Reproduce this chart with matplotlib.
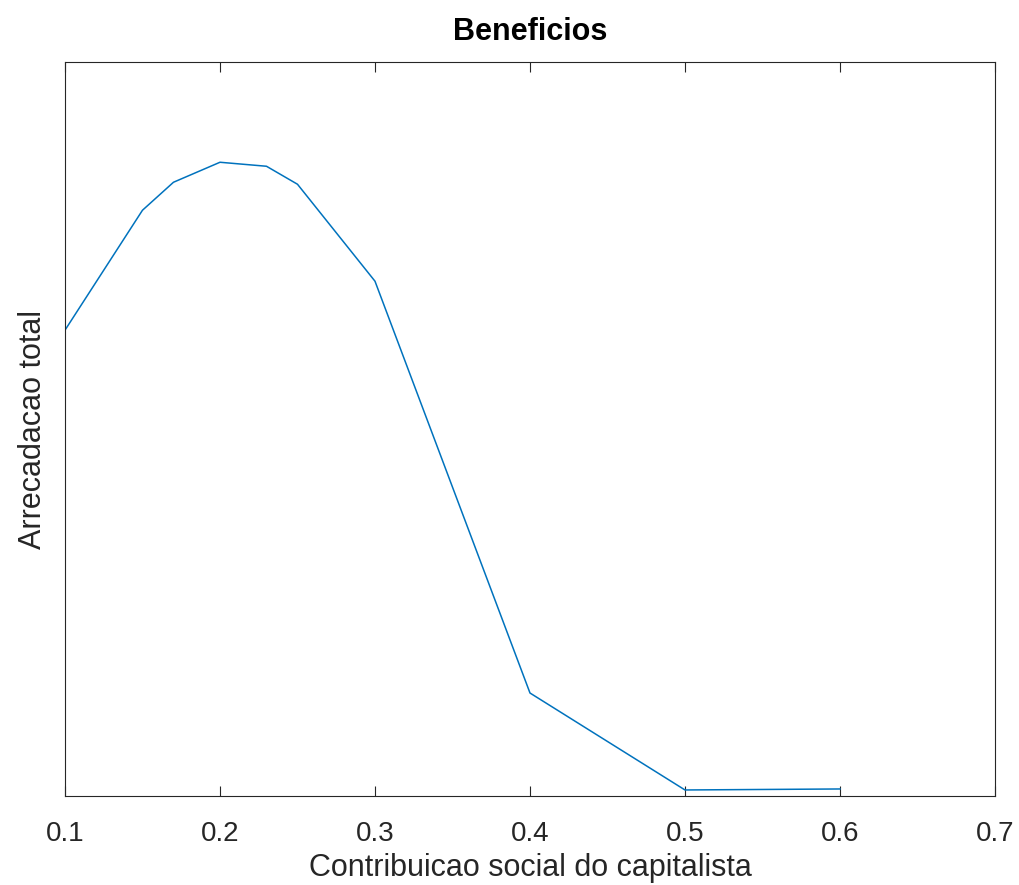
import matplotlib
matplotlib.use('Agg')
import matplotlib.pyplot as plt

# contribuicao social do capitalista vs arrecadacao total (arbitrary units, no y scale shown)
contribuicao = [0.1, 0.15, 0.17, 0.2, 0.23, 0.25, 0.3, 0.4, 0.5, 0.6]
arrecadacao = [466, 586, 614, 634, 630, 612, 515, 103, 6, 7]
xticks = [0.1, 0.2, 0.3, 0.4, 0.5, 0.6, 0.7]

plt.rcParams['font.family'] = ['Liberation Sans', 'DejaVu Sans']

fig = plt.figure(figsize=(10.2, 8.85), dpi=100)
ax = fig.add_axes([0.0637, 0.1006, 0.9118, 0.829])

ax.plot(contribuicao, arrecadacao, color='#0072BD', linewidth=1.1)

ax.set_xlim(0.1, 0.7)
ax.set_ylim(0, 734)
ax.set_xticks(xticks)
ax.set_xticklabels(['%.1f' % t for t in xticks])
ax.set_yticks([])

ax.tick_params(axis='x', direction='in', length=7, width=0.8, top=True,
               labelsize=20, colors='#262626', pad=18)
for sp in ax.spines.values():
    sp.set_color('#262626')
    sp.set_linewidth(0.8)

ax.set_xlabel('Contribuicao social do capitalista', fontsize=22, color='#262626', labelpad=4)
ax.set_ylabel('Arrecadacao total', fontsize=22, color='#262626', labelpad=12)
ax.set_title('Beneficios', fontsize=22, fontweight='bold', pad=16)

plt.savefig('out.png', dpi=100)
